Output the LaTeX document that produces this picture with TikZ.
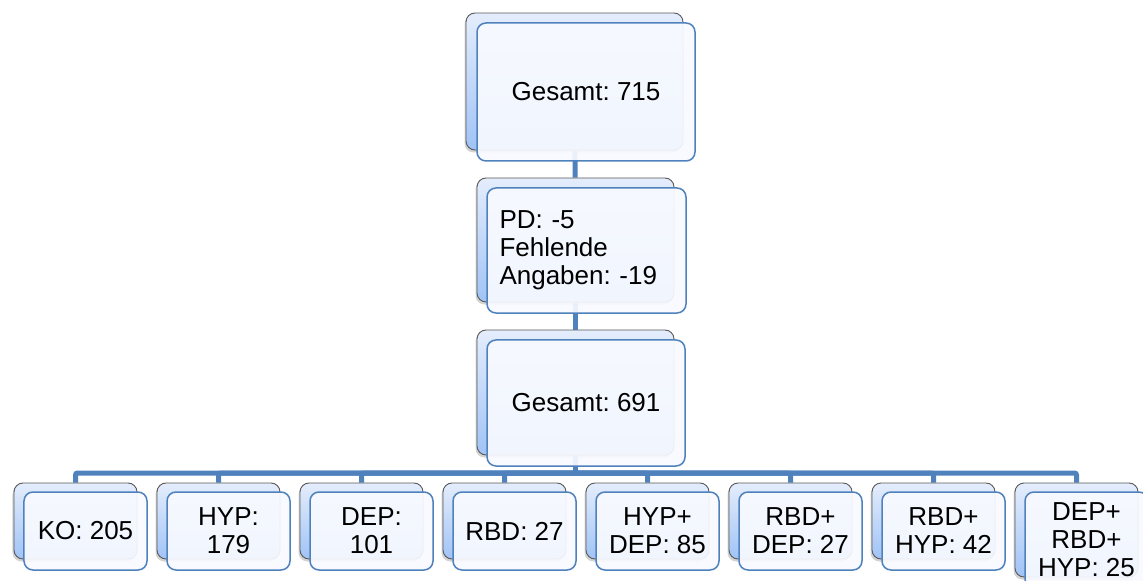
\documentclass[tikz,border=0pt]{standalone}
\usepackage{fontspec}
\setmainfont{Liberation Sans}
\usetikzlibrary{shadows}
\usetikzlibrary{backgrounds}

\definecolor{lineblue}{RGB}{79,129,189}
\definecolor{backtop}{RGB}{228,237,252}
\definecolor{backbot}{RGB}{160,195,246}
\definecolor{frontfill}{RGB}{248,250,255}

\tikzset{
  backbox/.style={draw=gray!70!black,line width=0.9bp,rounded corners=9bp,
    top color=backtop,bottom color=backbot,inner sep=0pt,
    drop shadow={shadow xshift=-1.5bp,shadow yshift=-2.5bp,opacity=0.35}},
  frontbox/.style={draw=lineblue,line width=1.5bp,rounded corners=9bp,
    fill=frontfill,fill opacity=0.92,text opacity=1,inner sep=0pt,align=center,
    font=\fontsize{26bp}{28bp}\selectfont\frenchspacing},
  botback/.style={backbox,minimum width=123bp,minimum height=76bp},
  botfront/.style={frontbox,minimum width=123bp,minimum height=78bp},
  conn/.style={draw=lineblue,line width=5bp,rounded corners=2bp}
}

\begin{document}
\begin{tikzpicture}[x=1bp,y=-1bp]
\useasboundingbox (0,0) rectangle (1143,581);

% top
\node[backbox,minimum width=217bp,minimum height=137bp] (g715) at (574.5,81.5) {};
\node[frontbox,minimum width=218bp,minimum height=138bp] (g715f) at (586,92) {Gesamt: 715};

\node[backbox,minimum width=197bp,minimum height=124bp] (pd) at (575.5,240) {};
\node[frontbox,minimum width=199bp,minimum height=125bp,text width=174bp,align=left] (pdf) at (586.5,250.5) {PD: -5\\Fehlende\\Angaben: -19};

\node[backbox,minimum width=197bp,minimum height=125bp] (g691) at (575.5,392.5) {};
\node[frontbox,minimum width=198bp,minimum height=126bp] (g691f) at (586,403) {Gesamt: 691};

% bottom row
\node[botback] (ko) at (75.5,521) {};
\node[botfront] (kof) at (85.5,531) {KO: 205};
\node[botback] (hyp) at (218.5,521) {};
\node[botfront] (hypf) at (228.5,531) {HYP:\\179};
\node[botback] (dep) at (361.5,521) {};
\node[botfront] (depf) at (371.5,531) {DEP:\\101};
\node[botback] (rbd) at (504.5,521) {};
\node[botfront] (rbdf) at (514.5,531) {RBD: 27};
\node[botback] (hypdep) at (647.5,521) {};
\node[botfront] (hypdepf) at (657.5,531) {HYP+\\DEP: 85};
\node[botback] (rbddep) at (790.5,521) {};
\node[botfront] (rbddepf) at (800.5,531) {RBD+\\DEP: 27};
\node[botback] (rbdhyp) at (933.5,521) {};
\node[botfront] (rbdhypf) at (943.5,531) {RBD+\\HYP: 42};
\node[botback,minimum height=94bp] (all) at (1076.5,530) {};
\node[botfront,minimum height=96bp] (allf) at (1086.5,540) {DEP+\\RBD+\\HYP: 25};

\begin{scope}[on background layer]
\draw[conn] (g715) -- (pd);
\draw[conn] (pd) -- (g691);
\coordinate (bus) at (575.5,473);
\draw[conn] (g691) -- (bus);
\draw[conn] (bus) -| (ko);
\draw[conn] (bus) -| (hyp);
\draw[conn] (bus) -| (dep);
\draw[conn] (bus) -| (rbd);
\draw[conn] (bus) -| (hypdep);
\draw[conn] (bus) -| (rbddep);
\draw[conn] (bus) -| (rbdhyp);
\draw[conn] (bus) -| (all);
\end{scope}
\end{tikzpicture}
\end{document}
